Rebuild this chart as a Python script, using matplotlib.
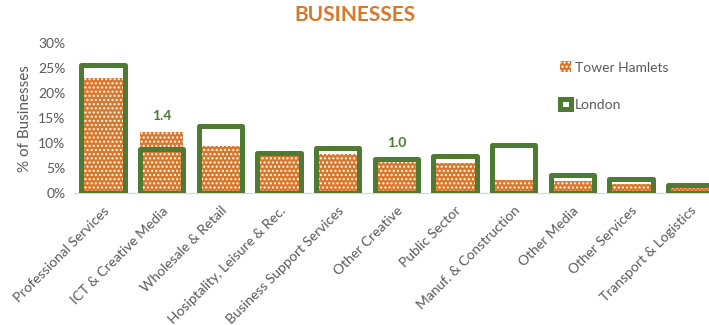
import numpy as np
import matplotlib.pyplot as plt

plt.rcParams["font.family"] = ["Lato", "DejaVu Sans"]
plt.rcParams["hatch.linewidth"] = 1.0

sectors = ["Professional Services", "ICT & Creative Media", "Wholesale & Retail",
           "Hosiptality, Leisure & Rec.", "Business Support Services", "Other Creative",
           "Public Sector", "Manuf. & Construction", "Other Media", "Other Services",
           "Transport & Logistics"]
tower_hamlets = [23.0, 12.3, 9.4, 7.7, 7.8, 6.7, 6.0, 2.6, 2.4, 1.8, 1.0]
london = [25.5, 8.8, 13.4, 8.1, 9.0, 6.9, 7.4, 9.6, 3.6, 2.8, 1.6]
# sectors that get a Tower Hamlets / London ratio label
ratio_labelled = ["ICT & Creative Media", "Other Creative"]

orange = "#D9772B"
green = "#4E7A34"
grey = "#595959"

fig = plt.figure(figsize=(7.09, 3.25), dpi=100)
ax = fig.add_axes([0.104, 0.405, 0.896, 0.463])

x = np.arange(len(sectors))
th = np.array(tower_hamlets) / 100
ld = np.array(london) / 100

ax.bar(x, th, width=0.74, color=orange, edgecolor="white", linewidth=0,
       hatch="....", zorder=2, label="Tower Hamlets")
ax.bar(x, ld, width=0.74, facecolor="none", edgecolor=green, linewidth=3.6,
       joinstyle="round", zorder=3, label="London")

for name in ratio_labelled:
    i = sectors.index(name)
    ratio = tower_hamlets[i] / london[i]
    top = max(th[i], ld[i])
    ax.text(x[i], top + 0.02, f"{ratio:.1f}", ha="center", va="bottom",
            color=green, fontsize=10, fontweight="bold")

ax.set_ylim(0, 0.30)
ax.set_xlim(-0.5, 10.33)
ax.set_yticks(np.arange(0, 0.31, 0.05))
ax.set_yticklabels([f"{int(round(v * 100))}%" for v in np.arange(0, 0.31, 0.05)])
ax.set_xticks(x)
ax.set_xticklabels(sectors, rotation=45, ha="right", rotation_mode="anchor")
ax.tick_params(axis="both", length=0, colors=grey, labelsize=10)
ax.tick_params(axis="x", pad=8)
ax.tick_params(axis="y", pad=6)

for side in ["top", "right", "left"]:
    ax.spines[side].set_visible(False)
ax.spines["bottom"].set_color("#D9D9D9")
ax.spines["bottom"].set_linewidth(1)

ax.set_ylabel("% of Businesses", color=grey, fontsize=11, labelpad=4)
fig.suptitle("BUSINESSES", x=0.5, y=0.985, color=orange, fontsize=15,
             fontweight="bold")

ax.legend(loc="upper left", bbox_to_anchor=(0.745, 0.96), frameon=False,
          fontsize=10, labelcolor=grey, labelspacing=1.8, handlelength=0.8,
          handleheight=0.8, handletextpad=0.3)

plt.savefig("out.png")
